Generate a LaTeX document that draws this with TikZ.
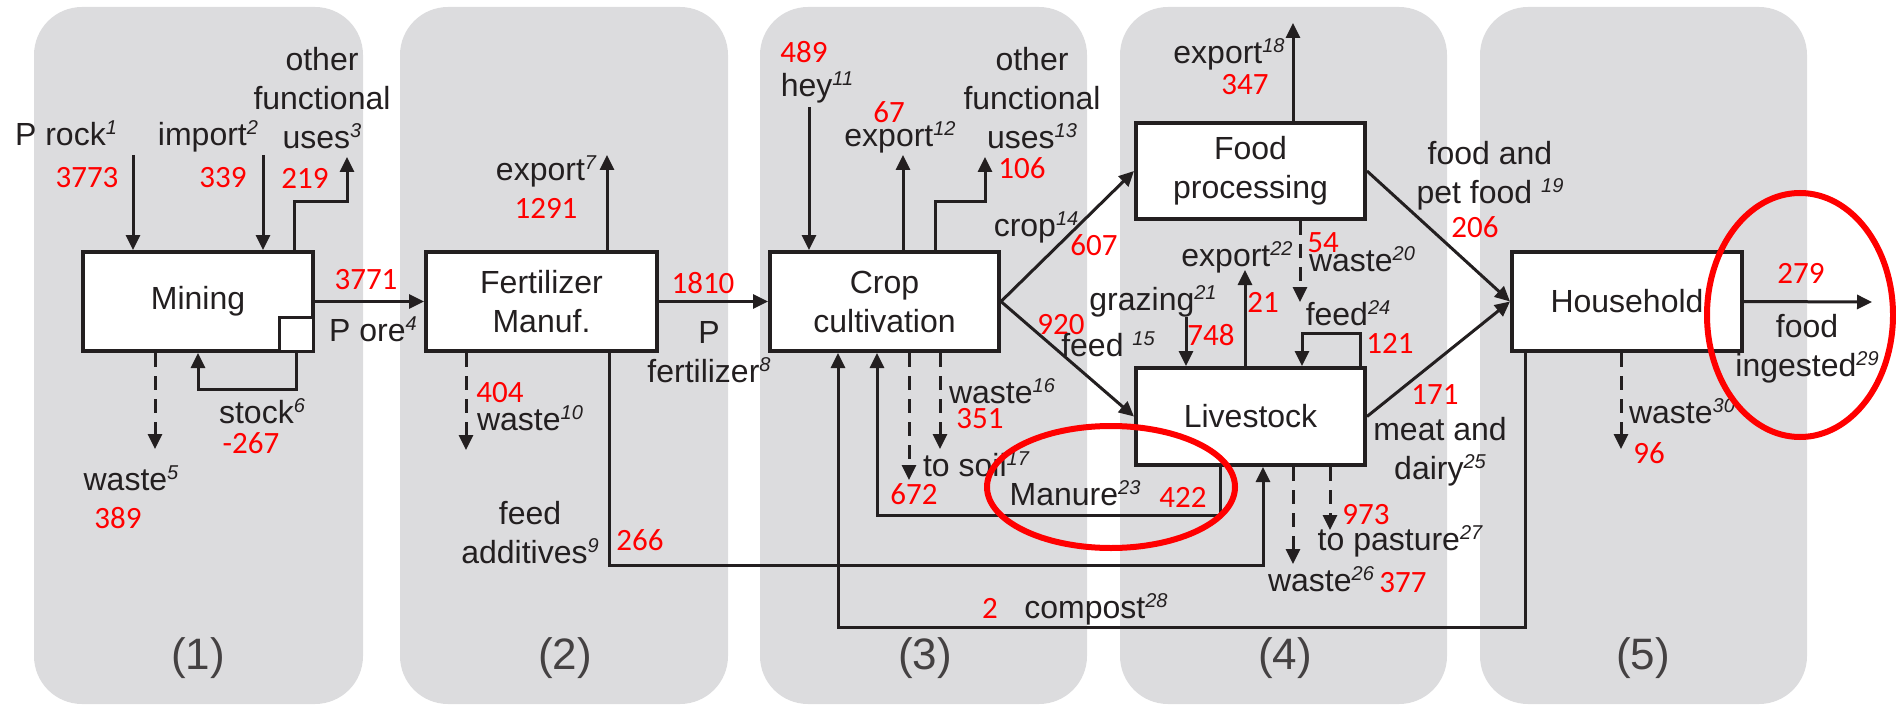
\documentclass[tikz,border=0pt]{standalone}
\usepackage{fontspec}
\setmainfont{Liberation Sans}
\newfontfamily\numfam{Carlito}
\usetikzlibrary{arrows.meta,calc}
\definecolor{ink}{RGB}{35,31,32}
\definecolor{panelgray}{RGB}{220,220,222}
\newcommand\labfont{\fontsize{32}{39}\selectfont}
\newcommand\numfont{\numfam\fontsize{31}{31}\selectfont}
\newcommand\panfont{\fontsize{44}{44}\selectfont}
\newcommand\ssc[1]{\raisebox{11pt}{\fontsize{20}{20}\selectfont\itshape #1}}
\tikzset{
  panel/.style={fill=panelgray, rounded corners=48pt},
  box/.style={draw=ink, fill=white, line width=4pt, minimum width=230pt, minimum height=99pt, inner sep=0pt, align=center, text=ink, font=\labfont},
  lab/.style={text=ink, inner sep=0pt, font=\labfont, text height=24pt, text depth=7pt},
  labm/.style={text=ink, inner sep=0pt, font=\labfont, align=center},
  num/.style={text=red, inner sep=0pt, font=\numfont},
  plab/.style={text=ink!85, inner sep=0pt, font=\panfont},
  arr/.style={draw=ink, line width=3pt, -{Triangle[length=15pt,width=14pt]}},
  darr/.style={arr, dash pattern=on 14pt off 9pt},
  ring/.style={draw=red, line width=6pt},
}
\begin{document}
\begin{tikzpicture}[x=1pt,y=-1pt]
\useasboundingbox (0,0) rectangle (1896,706);
% panels
\fill[panel] (34,7) rectangle (363,704);
\fill[panel] (400,7) rectangle (728,704);
\fill[panel] (760,7) rectangle (1087,704);
\fill[panel] (1120,7) rectangle (1447,704);
\fill[panel] (1480,7) rectangle (1807,704);
\node[plab] (p1) at (198,658) {(1)};
\node[plab] (p2) at (565,658) {(2)};
\node[plab] (p3) at (925,658) {(3)};
\node[plab] (p4) at (1285,658) {(4)};
\node[plab] (p5) at (1643,658) {(5)};

% boxes
\node[box] (mining) at (198,301.5) {Mining};
\node[draw=ink, fill=white, line width=3pt, minimum size=34pt, inner sep=0pt, anchor=south east] (msq) at (mining.south east) {};
\node[box, minimum width=231pt] (fert) at (541.5,301.5) {Fertilizer\\Manuf.};
\node[box, minimum width=229pt] (crop) at (884.5,301.5) {Crop\\cultivation};
\node[box, minimum width=229pt, minimum height=96pt] (food) at (1250.5,171) {Food\\processing};
\node[box, minimum width=229pt, minimum height=97pt] (live) at (1250.5,416.5) {Livestock};
\node[box] (house) at (1627,301.5) {Household};

% coordinates for free ends
\coordinate (prock) at (133,155);
\coordinate (imp) at (263,155);
\coordinate (ou1) at (347,157);
\coordinate (hey) at (809,107);
\coordinate (ou2) at (985,157);
\coordinate (graz) at (1186,317);
\coordinate (ingest) at (1872,302);

% mining flows
\draw[arr] (prock) -- (prock |- mining.north);
\draw[arr] (imp) -- (imp |- mining.north);
\draw[arr] ($(mining.north)+(96,0)$) -- ++(0,-49) -| (ou1);
\draw[arr] (mining.east) -- (fert.west);
\draw[darr] ($(mining.south)+(-43,0)$) -- ++(0,96);
\draw[arr] (msq.south) -- ++(0,36) -| (mining.south);

% fertilizer flows
\draw[arr] ($(fert.north)+(65.5,0)$) -- ++(0,-95);
\draw[arr] (fert.east) -- (crop.west);
\draw[darr] ($(fert.south)+(-75.5,0)$) -- ++(0,97);
\draw[arr] ($(fert.south)+(67.5,0)$) -- ++(0,212) -| ($(live.south)+(12.5,0)$);

% crop flows
\draw[arr] (hey) -- (hey |- crop.north);
\draw[arr] ($(crop.north)+(18.5,0)$) -- ++(0,-95);
\draw[arr] ($(crop.north)+(50.5,0)$) -- ++(0,-49) -| (ou2);
\draw[arr] (crop.east) -- (food.west);
\draw[arr] (crop.east) -- (live.west);
\draw[darr] ($(crop.south)+(24.5,0)$) -- ++(0,127);
\draw[darr] ($(crop.south)+(55.5,0)$) -- ++(0,96);
\draw[arr] ($(live.south)+(-30.5,0)$) -- ++(0,48) -| ($(crop.south)+(-7.5,0)$);
\draw[arr] ($(house.south)+(-102,0)$) -- ++(0,274) -| ($(crop.south)+(-46.5,0)$);

% food processing flows
\draw[arr] ($(food.north)+(42.5,0)$) -- ++(0,-98);
\draw[darr] ($(food.south)+(49.5,0)$) -- ++(0,81);
\draw[arr] (food.east) -- (house.west);

% livestock flows
\draw[arr] ($(live.north)+(-5.5,0)$) -- ++(0,-96);
\draw[arr] (graz) -- (graz |- live.north);
\draw[arr] ($(live.north)+(109.5,0)$) -- ++(0,-33) -| ($(live.north)+(51.5,0)$);
\draw[arr] (live.east) -- (house.west);
\draw[darr] ($(live.south)+(42.5,0)$) -- ++(0,97);
\draw[darr] ($(live.south)+(79.5,0)$) -- ++(0,63);

% household flows
\draw[arr] (house.east) -- (ingest);
\draw[darr] ($(house.south)+(-6,0)$) -- ++(0,96);

% labels panel 1
\node[lab] (l1) at (66,137) {P rock\ssc{1}};
\node[num] (n1) at (87,178) {3773};
\node[lab] (l2) at (208,137) {import\ssc{2}};
\node[num] (n2) at (223,178) {339};
\node[labm] (l3) at (322,98) {other\\functional\\uses\ssc{3}};
\node[num] (n3) at (305,178) {219};
\node[num] (n4) at (366,280) {3771};
\node[lab] (l4) at (373,333) {P ore\ssc{4}};
\node[lab] (l5) at (131,482) {waste\ssc{5}};
\node[num] (n5) at (118,518) {389};
\node[lab] (l6) at (262,415) {stock\ssc{6}};
\node[num] (n6) at (251,443) {-267};

% labels panel 2
\node[lab] (l7) at (546,172) {export\ssc{7}};
\node[num] (n7) at (546,208) {1291};
\node[num] (n8) at (703,283) {1810};
\node[labm] (l8) at (709,352) {P\\fertilizer\ssc{8}};
\node[num] (n10) at (500,393) {404};
\node[lab] (l10) at (530,422) {waste\ssc{10}};
\node[labm] (l9) at (530,533) {feed\\additives\ssc{9}};
\node[num] (n9) at (640,540) {266};

% labels panel 3
\node[num] (n11) at (804,52) {489};
\node[lab] (l11) at (817,88) {hey\ssc{11}};
\node[num] (n12) at (889,112) {67};
\node[lab] (l12) at (900,138) {export\ssc{12}};
\node[labm] (l13) at (1032,98) {other\\functional\\uses\ssc{13}};
\node[num] (n13) at (1022,168) {106};
\node[lab] (l14) at (1036,228) {crop\ssc{14}};
\node[num] (n14) at (1094,245) {607};
\node[num] (n15) at (1061,325) {920};
\node[lab] (l15) at (1108,348) {feed \ssc{15}};
\node[lab] (l21) at (1153,302) {grazing\ssc{21}};
\node[lab] (l16) at (1002,395) {waste\ssc{16}};
\node[num] (n16) at (980,419) {351};
\node[lab] (l17) at (976,468) {to soil\ssc{17}};
\node[num] (n17) at (914,494) {672};
\node[lab] (l23) at (1075,497) {Manure\ssc{23}};
\node[num] (n23) at (1183,497) {422};
\node[num] (n28) at (990,608) {2};
\node[lab] (l28) at (1096,610) {compost\ssc{28}};

% labels panel 4
\node[lab] (l18) at (1229,55) {export\ssc{18}};
\node[num] (n18) at (1245,85) {347};
\node[num] (n20) at (1323,243) {54};
\node[lab] (l20) at (1362,263) {waste\ssc{20}};
\node[lab] (l22) at (1237,258) {export\ssc{22}};
\node[num] (n22) at (1263,302) {21};
\node[num] (n21) at (1211,335) {748};
\node[lab] (l24) at (1348,317) {feed\ssc{24}};
\node[num] (n24) at (1390,343) {121};
\node[labm] (l19) at (1490,176) {food and\\pet food \ssc{19}};
\node[num] (n19) at (1475,227) {206};
\node[num] (n25) at (1435,395) {171};
\node[labm] (l25) at (1440,452) {meat and\\dairy\ssc{25}};
\node[num] (n27) at (1366,515) {973};
\node[lab] (l27) at (1400,542) {to pasture\ssc{27}};
\node[lab] (l26) at (1321,583) {waste\ssc{26}};
\node[num] (n26) at (1403,583) {377};

% labels panel 5
\node[num] (n29) at (1801,273) {279};
\node[labm] (l29) at (1807,349) {food\\ingested\ssc{29}};
\node[lab] (l30) at (1682,415) {waste\ssc{30}};
\node[num] (n30) at (1649,453) {96};

% highlight rings
\draw[ring] (1111,487) ellipse [x radius=124, y radius=61];
\draw[ring] (1800,315) ellipse [x radius=93, y radius=122];
\end{tikzpicture}
\end{document}
